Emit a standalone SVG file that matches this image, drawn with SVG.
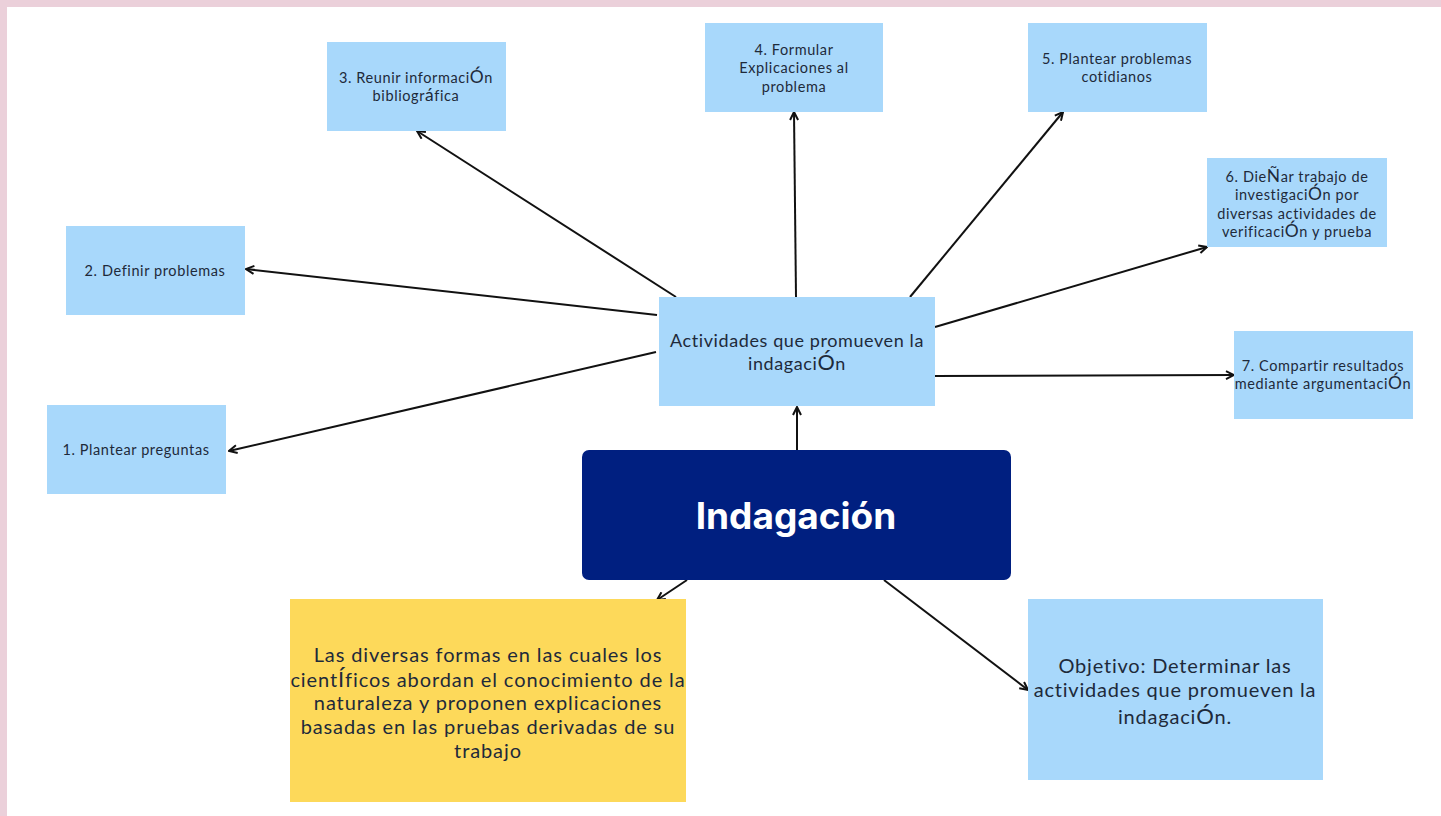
<svg xmlns="http://www.w3.org/2000/svg" width="1441" height="816" viewBox="0 0 1441 816">
<defs>
<marker id="ah" viewBox="0 0 10 10" refX="9" refY="5" markerWidth="10" markerHeight="10" markerUnits="userSpaceOnUse" orient="auto">
<path d="M1,1 L9,5 L1,9" fill="none" stroke="#111" stroke-width="2"/>
</marker>
<style>
.box{fill:#a8d8fb}
.t{font-family:Lato,"Noto Sans","DejaVu Sans",sans-serif;fill:#1e2a3a;text-anchor:middle}
.s{font-size:14.5px;letter-spacing:0.6px}
.m{font-size:18px;letter-spacing:0.6px}
.l{font-size:20px;letter-spacing:0.9px}
.o{font-size:20px;letter-spacing:0.8px}
.big{font-size:1.2em}
.big2{font-size:1.1em}
.c line{stroke:#111;stroke-width:2;marker-end:url(#ah)}
</style>
</defs>
<rect x="0" y="0" width="1441" height="816" fill="#ffffff"/>
<rect x="0" y="0" width="1441" height="7" fill="#ebd0da"/>
<rect x="0" y="0" width="7" height="816" fill="#ebd0da"/>

<g class="c" id="connectors">
<line x1="676" y1="297" x2="417" y2="131"/>
<line x1="657" y1="315" x2="246" y2="269"/>
<line x1="656" y1="352" x2="229" y2="451"/>
<line x1="796" y1="297" x2="794" y2="112"/>
<line x1="910" y1="297" x2="1063" y2="112"/>
<line x1="935" y1="327" x2="1207" y2="247"/>
<line x1="935" y1="376" x2="1234" y2="375"/>
<line x1="797" y1="450" x2="797" y2="407"/>
<line x1="687" y1="580" x2="657" y2="600"/>
<line x1="884" y1="580" x2="1028" y2="690"/>
</g>

<g id="n3"><rect class="box" x="327" y="42" width="179" height="89"/>
<text class="t s" x="416" y="83">3. Reunir informaci<tspan class="big">Ó</tspan>n</text>
<text class="t s" x="416" y="101">bibliogr<tspan class="big">á</tspan>fica</text></g>

<g id="n4"><rect class="box" x="705" y="23" width="178" height="89"/>
<text class="t s" x="794" y="55">4. Formular</text>
<text class="t s" x="794" y="73">Explicaciones al</text>
<text class="t s" x="794" y="92">problema</text></g>

<g id="n5"><rect class="box" x="1028" y="23" width="179" height="89"/>
<text class="t s" x="1117" y="64">5. Plantear problemas</text>
<text class="t s" x="1117" y="82">cotidianos</text></g>

<g id="n6"><rect class="box" x="1207" y="158" width="180" height="89"/>
<text class="t s" x="1297" y="182">6. Die<tspan class="big">Ñ</tspan>ar trabajo de</text>
<text class="t s" x="1297" y="200">investigaci<tspan class="big">Ó</tspan>n por</text>
<text class="t s" x="1297" y="219">diversas actividades de</text>
<text class="t s" x="1297" y="237">verificaci<tspan class="big">Ó</tspan>n y prueba</text></g>

<g id="n7"><rect class="box" x="1234" y="331" width="179" height="88"/>
<text class="t s" x="1323" y="371">7. Compartir resultados</text>
<text class="t s" x="1323" y="389">mediante argumentaci<tspan class="big">Ó</tspan>n</text></g>

<g id="n2"><rect class="box" x="66" y="226" width="179" height="89"/>
<text class="t s" x="155" y="276">2. Definir problemas</text></g>

<g id="n1"><rect class="box" x="47" y="405" width="179" height="89"/>
<text class="t s" x="136" y="455">1. Plantear preguntas</text></g>

<g id="center"><rect class="box" x="659" y="297" width="276" height="109"/>
<text class="t m" x="797" y="347">Actividades que promueven la</text>
<text class="t m" x="797" y="370">indagaci<tspan class="big">Ó</tspan>n</text></g>

<g id="indagacion"><rect x="582" y="450" width="429" height="130" rx="7" fill="#001f80"/>
<text x="796" y="529" font-family="Inter,'Open Sans',sans-serif" font-weight="700" font-size="37" fill="#ffffff" text-anchor="middle">Indagación</text></g>

<g id="definicion"><rect x="290" y="599" width="396" height="203" fill="#fdd95a"/>
<text class="t l" x="488" y="662">Las diversas formas en las cuales los</text>
<text class="t l" x="488" y="687">cient<tspan class="big2">Í</tspan>ficos abordan el conocimiento de la</text>
<text class="t l" x="488" y="710">naturaleza y proponen explicaciones</text>
<text class="t l" x="488" y="734">basadas en las pruebas derivadas de su</text>
<text class="t l" x="488" y="758">trabajo</text></g>

<g id="objetivo"><rect class="box" x="1028" y="599" width="295" height="181"/>
<text class="t o" x="1175" y="673">Objetivo: Determinar las</text>
<text class="t o" x="1175" y="697">actividades que promueven la</text>
<text class="t o" x="1175" y="724">indagaci<tspan class="big2">Ó</tspan>n.</text></g>
</svg>
